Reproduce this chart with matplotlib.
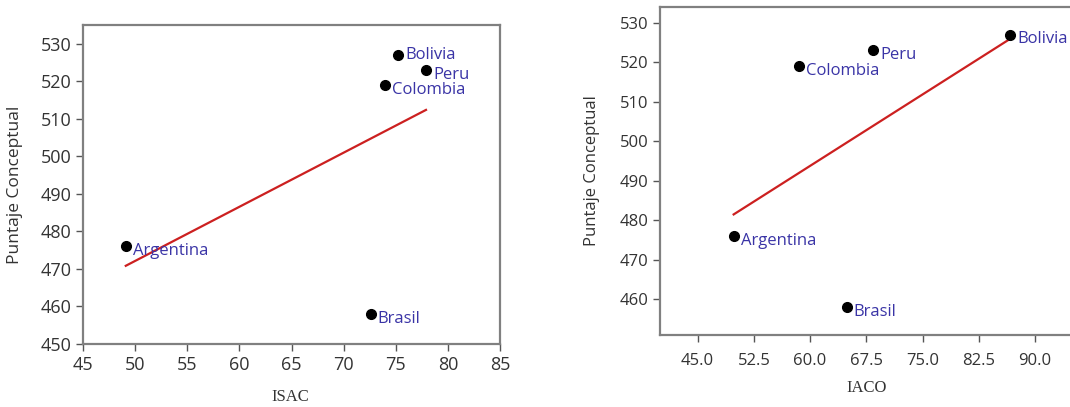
import numpy as np
import matplotlib.pyplot as plt

# Datos
paises = ['Argentina', 'Brasil', 'Colombia', 'Bolivia', 'Peru']
puntaje = [476, 458, 519, 527, 523]
isac = [49.1, 72.6, 74.0, 75.2, 77.9]
iaco = [49.8, 64.9, 58.5, 86.7, 68.4]

isac_ticks = [45, 50, 55, 60, 65, 70, 75, 80, 85]
iaco_ticks = [45.0, 52.5, 60.0, 67.5, 75.0, 82.5, 90.0]

# desplazamiento de las etiquetas (pt)
off_izq = {'Argentina': (5, -3.5), 'Brasil': (5, -3.5), 'Colombia': (5, -3.5),
           'Bolivia': (5.5, 0), 'Peru': (5, -4)}
off_der = {p: (5, -3.5) for p in paises}

fig = plt.figure(figsize=(10.7, 4.07), dpi=100)
ax1 = fig.add_axes([0.0776, 0.155, 0.3897, 0.784])
ax2 = fig.add_axes([0.617, 0.177, 0.3853, 0.806])

lbl_col = '#3a34a6'
gris = '#808080'


def dibujar(ax, x, offs, fs_y):
    ax.plot(x, puntaje, 'o', color='black', ms=7, zorder=3)
    b, a = np.polyfit(x, puntaje, 1)
    xl = np.array([min(x), max(x)])
    ax.plot(xl, b*xl + a, color='#cc2020', lw=1.6, zorder=2)
    for xi, yi, p in zip(x, puntaje, paises):
        ax.annotate(p, (xi, yi), xytext=offs[p], textcoords='offset points',
                    va='center', ha='left', color=lbl_col, fontsize=12,
                    family='Open Sans', zorder=4)
    for s in ax.spines.values():
        s.set_color(gris)
        s.set_linewidth(1.6)
    ax.tick_params(direction='out', length=5, width=1, color='#555555',
                   labelcolor='#333333')
    ax.set_ylabel('Puntaje Conceptual', fontsize=fs_y, color='#333333',
                  family='Open Sans')


dibujar(ax1, isac, off_izq, 12.5)
ax1.set_xlim(45, 85)
ax1.set_ylim(450, 535)
ax1.set_xticks(isac_ticks)
ax1.set_yticks(np.arange(450, 531, 10))
ax1.tick_params(labelsize=13)
for t in ax1.get_xticklabels() + ax1.get_yticklabels():
    t.set_family('Open Sans')
ax1.set_xlabel('ISAC', fontsize=12, color='#333333', family='Liberation Serif')
ax1.xaxis.set_label_coords(0.496, -0.142)
ax1.yaxis.set_label_coords(-0.143, 0.5)

dibujar(ax2, iaco, off_der, 12)
ax2.set_xlim(40, 95)
ax2.set_ylim(451, 534)
ax2.set_xticks(iaco_ticks)
ax2.set_xticklabels([f'{v:.1f}' for v in iaco_ticks])
ax2.set_yticks(np.arange(460, 531, 10))
ax2.tick_params(labelsize=12)
for t in ax2.get_xticklabels() + ax2.get_yticklabels():
    t.set_family('Open Sans')
ax2.tick_params(axis='x', pad=8)
ax2.set_xlabel('IACO', fontsize=12, color='#333333', family='Liberation Serif')
ax2.xaxis.set_label_coords(0.5, -0.137)
ax2.yaxis.set_label_coords(-0.146, 0.5)

fig.savefig('out.png', dpi=100)
